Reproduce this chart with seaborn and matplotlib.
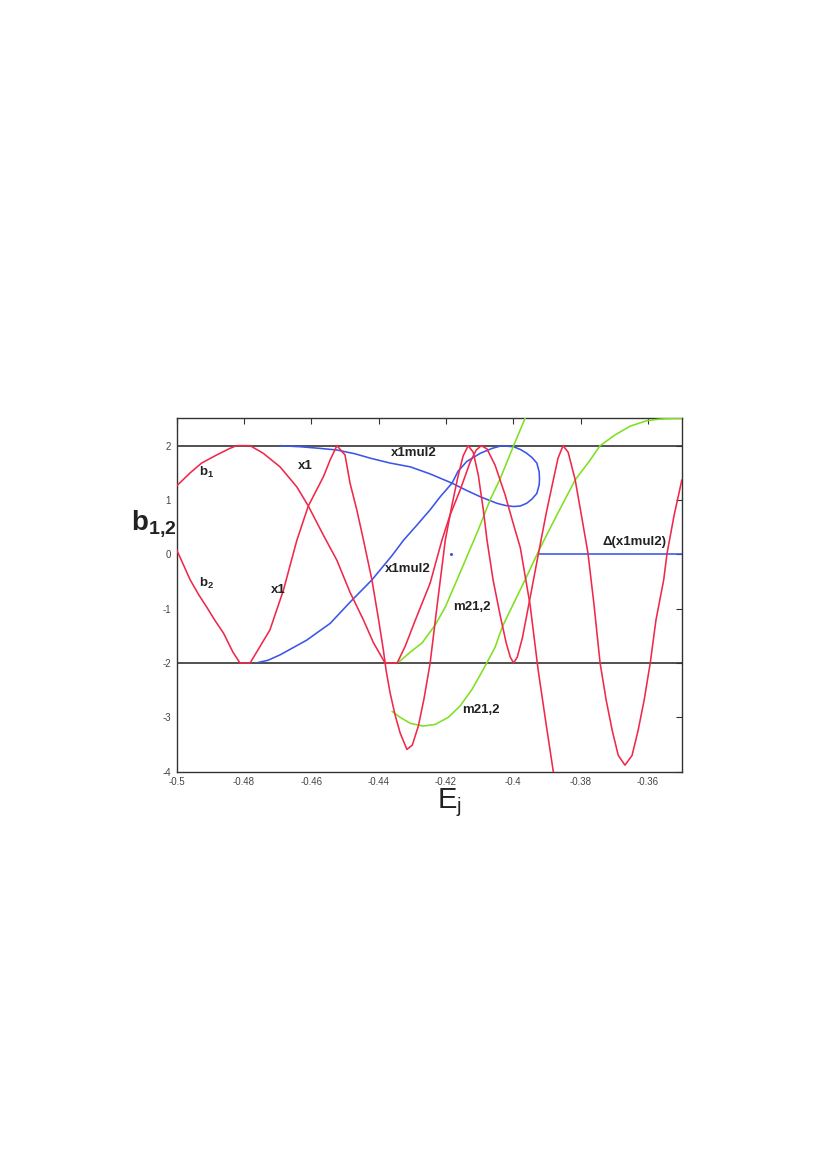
import matplotlib
matplotlib.use("Agg")
import matplotlib.pyplot as plt
import pandas as pd
import seaborn as sns

# x1 family, b1 (red)
b1_e = [-0.5, -0.4960, -0.4926, -0.4881, -0.4842, -0.4822, -0.4782, -0.4743, -0.4693,
        -0.4643, -0.4609, -0.4564, -0.4524, -0.4485, -0.4445, -0.4416, -0.4381, -0.4345,
        -0.4321, -0.4291, -0.4247, -0.4212, -0.4188, -0.4158, -0.4128, -0.4110, -0.4095,
        -0.4078, -0.4054, -0.4024, -0.4003, -0.3979, -0.3950, -0.3926, -0.3902, -0.3881,
        -0.3870]
b1_b = [1.26, 1.50, 1.68, 1.83, 1.95, 2.0, 2.0, 1.86, 1.61,
        1.24, 0.89, 0.35, -0.11, -0.70, -1.21, -1.62, -2.0, -2.0,
        -1.69, -1.21, -0.53, 0.26, 0.72, 1.18, 1.70, 1.92, 2.0,
        1.94, 1.64, 1.09, 0.63, 0.12, -0.93, -2.13, -3.14, -4.0,
        -4.43]

# x1 family, b2 (red)
b2_e = [-0.5, -0.4981, -0.4960, -0.4935, -0.4911, -0.4886, -0.4861, -0.4833, -0.4812,
        -0.4782, -0.4752, -0.4723, -0.4683, -0.4643, -0.4609, -0.4564, -0.4544, -0.4524,
        -0.4500, -0.4485, -0.4465, -0.4445, -0.4420, -0.4400, -0.4386, -0.4378, -0.4366,
        -0.4351, -0.4336, -0.4316, -0.4300, -0.4282, -0.4265, -0.4247, -0.4226, -0.4202,
        -0.4182, -0.4164, -0.4149, -0.4134, -0.4119, -0.4104, -0.4089, -0.4078, -0.4060,
        -0.4039, -0.4021, -0.4009, -0.3999, -0.3988, -0.3973, -0.3950, -0.3925, -0.3902,
        -0.3881, -0.3867, -0.3852, -0.3837, -0.3816, -0.3795, -0.3778, -0.3760, -0.3742,
        -0.3724, -0.3706, -0.3688, -0.3668, -0.3647, -0.3629, -0.3611, -0.3593, -0.3576,
        -0.3553, -0.3543, -0.3522, -0.3499]
b2_b = [0.08, -0.18, -0.47, -0.74, -0.97, -1.22, -1.45, -1.80, -2.0,
        -2.0, -1.69, -1.39, -0.66, 0.26, 0.89, 1.43, 1.74, 2.0,
        1.83, 1.31, 0.82, 0.26, -0.47, -1.21, -1.76, -2.13, -2.55,
        -2.96, -3.29, -3.59, -3.51, -3.16, -2.65, -2.0, -0.93, 0.26,
        0.91, 1.44, 1.81, 2.0, 1.88, 1.46, 0.82, 0.26, -0.47,
        -1.12, -1.63, -1.89, -2.0, -1.89, -1.54, -0.80, 0.02, 0.76,
        1.37, 1.77, 2.0, 1.88, 1.37, 0.63, 0.02, -0.93, -2.0,
        -2.68, -3.24, -3.70, -3.88, -3.70, -3.24, -2.68, -2.0, -1.21,
        -0.47, 0.02, 0.72, 1.37]

# x1mul2 (blue), one path running round the loop
mul_e = [-0.4693, -0.4633, -0.4574, -0.4524, -0.4470, -0.4425, -0.4366, -0.4306, -0.4247,
         -0.4182, -0.4140, -0.4098, -0.4049, -0.4024, -0.3999, -0.3979, -0.3960, -0.3944,
         -0.3930, -0.3923, -0.3922, -0.3923, -0.3930, -0.3944, -0.3960, -0.3979, -0.3999,
         -0.4018, -0.4034, -0.4063, -0.4098, -0.4138, -0.4164, -0.4182, -0.4217, -0.4247,
         -0.4286, -0.4326, -0.4360, -0.4396, -0.4420, -0.4485, -0.4544, -0.4614, -0.4693,
         -0.4729, -0.4758]
mul_b = [2.0, 1.98, 1.95, 1.92, 1.85, 1.77, 1.68, 1.61, 1.48,
         1.31, 1.18, 1.06, 0.94, 0.90, 0.88, 0.89, 0.94, 1.02,
         1.12, 1.28, 1.37, 1.52, 1.68, 1.78, 1.86, 1.93, 1.98,
         1.99, 2.0, 1.95, 1.86, 1.71, 1.53, 1.31, 1.06, 0.82,
         0.54, 0.26, -0.02, -0.29, -0.47, -0.88, -1.27, -1.58, -1.85,
         -1.95, -1.99]

# Delta(x1mul2) (blue)
delta_e = [-0.3925, -0.35]
delta_b = [0.0, 0.0]

# m21,2 (green), upper branch
m1_e = [-0.4340, -0.4306, -0.4271, -0.4232, -0.4202, -0.4179, -0.4152, -0.4128, -0.4104,
        -0.4069, -0.4039, -0.3999, -0.3965, -0.3956]
m1_b = [-1.98, -1.80, -1.63, -1.30, -0.97, -0.64, -0.25, 0.10, 0.45,
        1.0, 1.39, 2.0, 2.5, 2.64]

# m21,2 (green), lower branch
m2_e = [-0.4360, -0.4336, -0.4306, -0.4268, -0.4232, -0.4193, -0.4158, -0.4122, -0.4084,
        -0.4054, -0.4033, -0.3994, -0.3965, -0.3920, -0.3875, -0.3816, -0.3771, -0.3742,
        -0.3697, -0.3652, -0.3603, -0.3563, -0.3527, -0.3497]
m2_b = [-2.89, -3.0, -3.11, -3.16, -3.13, -3.0, -2.79, -2.48, -2.06,
        -1.71, -1.34, -0.84, -0.47, 0.12, 0.67, 1.37, 1.74, 2.0,
        2.20, 2.36, 2.46, 2.49, 2.5, 2.5]

xticks = [-0.5, -0.48, -0.46, -0.44, -0.42, -0.4, -0.38, -0.36]
xtick_labels = ["-0.5", "-0.48", "-0.46", "-0.44", "-0.42", "-0.4", "-0.38", "-0.36"]
yticks = [-4, -3, -2, -1, 0, 1, 2]
ytick_labels = ["-4", "-3", "-2", "-1", "0", "1", "2"]

RED = "#f0284a"
BLUE = "#3a55e8"
GREEN = "#7ee01e"

sns.set_theme(style="white")
plt.rcParams["font.family"] = ["Liberation Sans", "DejaVu Sans"]
plt.rcParams["mathtext.fontset"] = "custom"
plt.rcParams["mathtext.rm"] = "Liberation Sans"
plt.rcParams["mathtext.bf"] = "Liberation Sans:bold"
plt.rcParams["axes.unicode_minus"] = False
plt.rcParams["lines.solid_joinstyle"] = "round"

fig = plt.figure(figsize=(8.27, 11.68), dpi=100)
ax = fig.add_axes([0.2137, 0.3393, 0.6104, 0.3024])

ax.axhline(2, color="#333333", lw=1.2, zorder=1)
ax.axhline(-2, color="#333333", lw=1.2, zorder=1)


def draw(e, b, color):
    df = pd.DataFrame({"E": e, "b": b})
    sns.lineplot(data=df, x="E", y="b", sort=False, estimator=None,
                 color=color, lw=1.15, ax=ax, zorder=3)


draw(mul_e, mul_b, BLUE)
draw(delta_e, delta_b, BLUE)
draw(m1_e, m1_b, GREEN)
draw(m2_e, m2_b, GREEN)
draw(b1_e, b1_b, RED)
draw(b2_e, b2_b, RED)
ax.plot([-0.4185], [0.0], "o", ms=1.2, color=BLUE)

ax.set_xlim(-0.5, -0.35)
ax.set_ylim(-4, 2.5)
ax.set_xticks(xticks)
ax.set_xticklabels(xtick_labels)
ax.set_yticks(yticks)
ax.set_yticklabels(ytick_labels)
ax.tick_params(direction="in", length=4, width=0.8, top=True, right=True,
               labelsize=7, labelcolor="#444444", colors="#333333", pad=4)
for s in ax.spines.values():
    s.set_color("#333333")
    s.set_linewidth(1.0)
ax.set_xlabel("")
ax.set_ylabel("")

lab = dict(fontsize=9.5, fontweight="bold", color="#222222", ha="center", va="center")
ax.text(-0.4910, 1.50, r"$\mathbf{b_1}$", **lab)
ax.text(-0.4910, -0.53, r"$\mathbf{b_2}$", **lab)
ax.text(-0.4619, 1.63, "x1", **lab)
ax.text(-0.4699, -0.66, "x1", **lab)
ax.text(-0.4295, 1.87, "x1mul2", **lab)
ax.text(-0.4312, -0.27, "x1mul2", **lab)
ax.text(-0.4122, -0.97, "m21,2", **lab)
ax.text(-0.4095, -2.87, "m21,2", **lab)
ax.text(-0.3640, 0.23, "Δ(x1mul2)", **lab)

fig.text(0.186, 0.552, r"$\mathbf{b_{1{,}2}}$", fontsize=20, color="#222222",
         ha="center", va="center")
fig.text(0.544, 0.3125, r"$\mathrm{E_j}$", fontsize=21, color="#222222",
         ha="center", va="center")

fig.savefig("out.png", dpi=100)
